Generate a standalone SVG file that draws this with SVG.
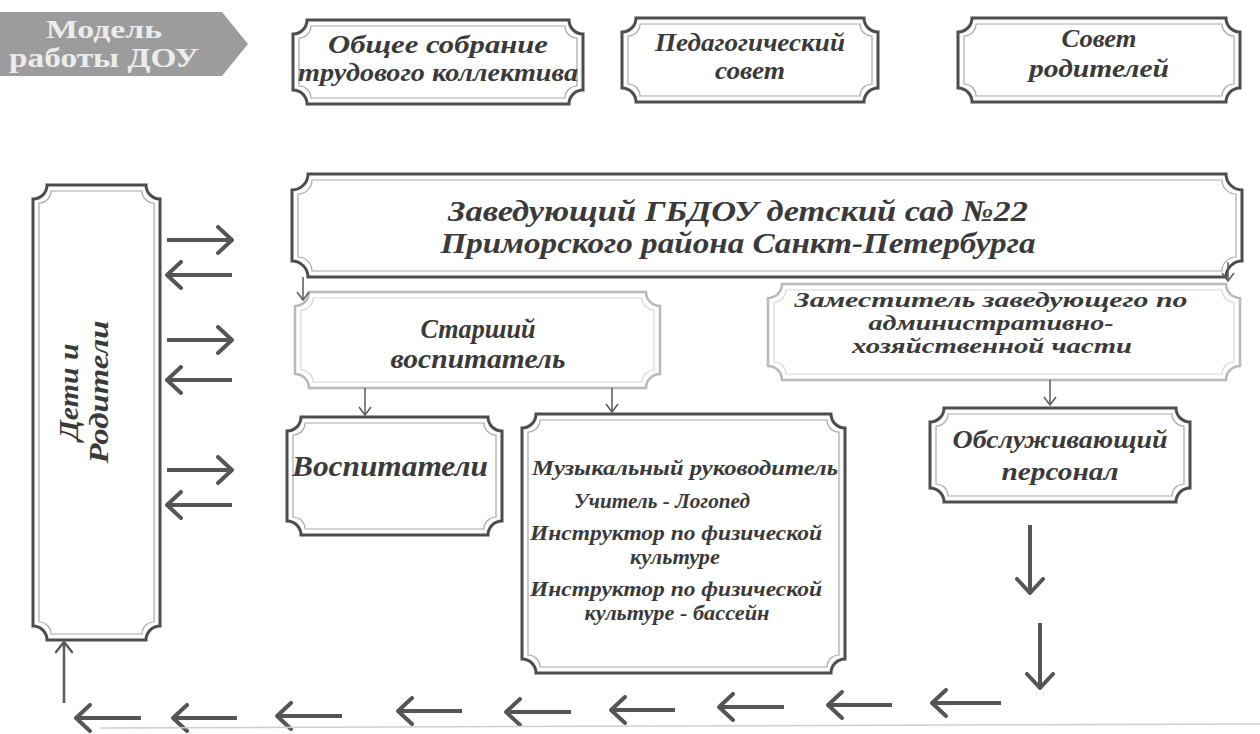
<svg xmlns="http://www.w3.org/2000/svg" width="1260" height="734" viewBox="0 0 1260 734">
<defs>
<style>
.frame{fill:#fff;stroke:#4d4d4d;stroke-width:3}
.inner{fill:none;stroke:#a8a8a8;stroke-width:1.2}
.frameL{fill:#fff;stroke:#b9b9b9;stroke-width:2.5}
.innerL{fill:none;stroke:#d6d6d6;stroke-width:1.2}
.t{font-family:"Liberation Serif","DejaVu Serif",serif;font-style:italic;font-weight:bold;fill:#3a3a3a;text-anchor:middle}
.lbl{font-family:"Liberation Serif","DejaVu Serif",serif;font-weight:bold;fill:#ececec;text-anchor:middle}
.thin{fill:none;stroke:#5a5a5a;stroke-width:1.5;marker-end:url(#hThin)}
.mid{fill:none;stroke:#5a5a5a;stroke-width:2.5;marker-end:url(#hMid)}
.thick{fill:none;stroke:#555;stroke-width:4;marker-end:url(#hThick)}
</style>
<marker id="hThin" viewBox="0 0 10 14" refX="9" refY="7" markerWidth="10" markerHeight="14" markerUnits="userSpaceOnUse" orient="auto"><path d="M1,1 L9,7 L1,13" fill="none" stroke="#5a5a5a" stroke-width="1.5"/></marker>
<marker id="hMid" viewBox="0 0 14 20" refX="12" refY="10" markerWidth="14" markerHeight="20" markerUnits="userSpaceOnUse" orient="auto"><path d="M2,2 L12,10 L2,18" fill="none" stroke="#5a5a5a" stroke-width="2.5" stroke-linecap="round"/></marker>
<marker id="hThick" viewBox="0 0 18 30" refX="16" refY="15" markerWidth="18" markerHeight="30" markerUnits="userSpaceOnUse" orient="auto"><path d="M2,2 L16,15 L2,28" fill="none" stroke="#555" stroke-width="4" stroke-linecap="round" stroke-linejoin="round"/></marker>
</defs>
<rect width="1260" height="734" fill="#fff"/>

<g id="label">
<polygon points="0,12 222,12 248,44 222,76 0,76" fill="#9c9c9c"/>
<text class="lbl" x="104" y="38" font-size="25" textLength="116" lengthAdjust="spacingAndGlyphs">Модель</text>
<text class="lbl" x="104" y="67" font-size="28" textLength="190" lengthAdjust="spacingAndGlyphs">работы ДОУ</text>
</g>

<g id="obshchee">
<path class="frame" d="M307,20 H569 A14,14 0 0 0 583,34 V90 A14,14 0 0 0 569,104 H307 A14,14 0 0 0 293,90 V34 A14,14 0 0 0 307,20 Z"/>
<path class="inner" d="M311,26 H565 A12,12 0 0 0 577,38 V86 A12,12 0 0 0 565,98 H311 A12,12 0 0 0 299,86 V38 A12,12 0 0 0 311,26 Z"/>
<text class="t" x="438" y="53" font-size="25" textLength="220" lengthAdjust="spacingAndGlyphs">Общее собрание</text>
<text class="t" x="438" y="81" font-size="25" textLength="280" lengthAdjust="spacingAndGlyphs">трудового коллектива</text>
</g>

<g id="pedsovet">
<path class="frame" d="M636,18 H864 A14,14 0 0 0 878,32 V88 A14,14 0 0 0 864,102 H636 A14,14 0 0 0 622,88 V32 A14,14 0 0 0 636,18 Z"/>
<path class="inner" d="M640,24 H860 A12,12 0 0 0 872,36 V84 A12,12 0 0 0 860,96 H640 A12,12 0 0 0 628,84 V36 A12,12 0 0 0 640,24 Z"/>
<text class="t" x="750" y="51" font-size="25" textLength="190" lengthAdjust="spacingAndGlyphs">Педагогический</text>
<text class="t" x="750" y="79" font-size="25" textLength="70" lengthAdjust="spacingAndGlyphs">совет</text>
</g>

<g id="sovet-roditelei">
<path class="frame" d="M972,18 H1226 A14,14 0 0 0 1240,32 V88 A14,14 0 0 0 1226,102 H972 A14,14 0 0 0 958,88 V32 A14,14 0 0 0 972,18 Z"/>
<path class="inner" d="M976,24 H1222 A12,12 0 0 0 1234,36 V84 A12,12 0 0 0 1222,96 H976 A12,12 0 0 0 964,84 V36 A12,12 0 0 0 976,24 Z"/>
<text class="t" x="1099" y="47" font-size="26" textLength="75" lengthAdjust="spacingAndGlyphs">Совет</text>
<text class="t" x="1099" y="77" font-size="26" textLength="140" lengthAdjust="spacingAndGlyphs">родителей</text>
</g>

<g id="zaveduyushchii">
<path class="frame" d="M308,174 H1226 A16,16 0 0 0 1242,190 V261 A16,16 0 0 0 1226,277 H308 A16,16 0 0 0 292,261 V190 A16,16 0 0 0 308,174 Z"/>
<path class="inner" d="M312,180 H1222 A14,14 0 0 0 1236,194 V257 A14,14 0 0 0 1222,271 H312 A14,14 0 0 0 298,257 V194 A14,14 0 0 0 312,180 Z"/>
<text class="t" x="738" y="221" font-size="30" textLength="580" lengthAdjust="spacingAndGlyphs">Заведующий ГБДОУ детский сад №22</text>
<text class="t" x="738" y="253" font-size="30" textLength="595" lengthAdjust="spacingAndGlyphs">Приморского района Санкт-Петербурга</text>
</g>

<g id="starshii">
<path class="frameL" d="M309,292 H646 A14,14 0 0 0 660,306 V374 A14,14 0 0 0 646,388 H309 A14,14 0 0 0 295,374 V306 A14,14 0 0 0 309,292 Z"/>
<path class="innerL" d="M313,298 H642 A12,12 0 0 0 654,310 V370 A12,12 0 0 0 642,382 H313 A12,12 0 0 0 301,370 V310 A12,12 0 0 0 313,298 Z"/>
<text class="t" x="478" y="338" font-size="27" textLength="115" lengthAdjust="spacingAndGlyphs">Старший</text>
<text class="t" x="478" y="368" font-size="27" textLength="175" lengthAdjust="spacingAndGlyphs">воспитатель</text>
</g>

<g id="zamestitel">
<path class="frameL" d="M782,284 H1226 A14,14 0 0 0 1240,298 V366 A14,14 0 0 0 1226,380 H782 A14,14 0 0 0 768,366 V298 A14,14 0 0 0 782,284 Z"/>
<path class="innerL" d="M786,290 H1222 A12,12 0 0 0 1234,302 V362 A12,12 0 0 0 1222,374 H786 A12,12 0 0 0 774,362 V302 A12,12 0 0 0 786,290 Z"/>
<text class="t" x="991" y="307" font-size="22" textLength="393" lengthAdjust="spacingAndGlyphs">Заместитель заведующего по</text>
<text class="t" x="991" y="330" font-size="22" textLength="245" lengthAdjust="spacingAndGlyphs">административно-</text>
<text class="t" x="992" y="353" font-size="22" textLength="280" lengthAdjust="spacingAndGlyphs">хозяйственной части</text>
</g>

<g id="vospitateli">
<path class="frame" d="M301,417 H488 A14,14 0 0 0 502,431 V521 A14,14 0 0 0 488,535 H301 A14,14 0 0 0 287,521 V431 A14,14 0 0 0 301,417 Z"/>
<path class="inner" d="M305,423 H484 A12,12 0 0 0 496,435 V517 A12,12 0 0 0 484,529 H305 A12,12 0 0 0 293,517 V435 A12,12 0 0 0 305,423 Z"/>
<text class="t" x="390" y="476" font-size="30" textLength="196" lengthAdjust="spacingAndGlyphs">Воспитатели</text>
</g>

<g id="specialisty">
<path class="frame" d="M536,414 H831 A14,14 0 0 0 845,428 V659 A14,14 0 0 0 831,673 H536 A14,14 0 0 0 522,659 V428 A14,14 0 0 0 536,414 Z"/>
<path class="inner" d="M540,420 H827 A12,12 0 0 0 839,432 V655 A12,12 0 0 0 827,667 H540 A12,12 0 0 0 528,655 V432 A12,12 0 0 0 540,420 Z"/>
<text class="t" x="685" y="475" font-size="22" textLength="306" lengthAdjust="spacingAndGlyphs">Музыкальный руководитель</text>
<text class="t" x="662" y="508" font-size="22" textLength="176" lengthAdjust="spacingAndGlyphs">Учитель - Логопед</text>
<text class="t" x="676" y="540" font-size="22" textLength="292" lengthAdjust="spacingAndGlyphs">Инструктор по физической</text>
<text class="t" x="675" y="564" font-size="22" textLength="90" lengthAdjust="spacingAndGlyphs">культуре</text>
<text class="t" x="676" y="596" font-size="22" textLength="292" lengthAdjust="spacingAndGlyphs">Инструктор по физической</text>
<text class="t" x="677" y="620" font-size="22" textLength="185" lengthAdjust="spacingAndGlyphs">культуре - бассейн</text>
</g>

<g id="obsluzhivayushchii">
<path class="frame" d="M944,408 H1176 A14,14 0 0 0 1190,422 V488 A14,14 0 0 0 1176,502 H944 A14,14 0 0 0 930,488 V422 A14,14 0 0 0 944,408 Z"/>
<path class="inner" d="M948,414 H1172 A12,12 0 0 0 1184,426 V484 A12,12 0 0 0 1172,496 H948 A12,12 0 0 0 936,484 V426 A12,12 0 0 0 948,414 Z"/>
<text class="t" x="1060" y="448" font-size="26" textLength="215" lengthAdjust="spacingAndGlyphs">Обслуживающий</text>
<text class="t" x="1060" y="480" font-size="26" textLength="117" lengthAdjust="spacingAndGlyphs">персонал</text>
</g>

<g id="deti">
<path class="frame" d="M47,185 H146 A14,14 0 0 0 160,199 V626 A14,14 0 0 0 146,640 H47 A14,14 0 0 0 33,626 V199 A14,14 0 0 0 47,185 Z"/>
<path class="inner" d="M51,191 H142 A12,12 0 0 0 154,203 V622 A12,12 0 0 0 142,634 H51 A12,12 0 0 0 39,622 V203 A12,12 0 0 0 51,191 Z"/>
<text class="t" transform="translate(78,392) rotate(-90)" font-size="27" textLength="97" lengthAdjust="spacingAndGlyphs">Дети и</text>
<text class="t" transform="translate(108,392) rotate(-90)" font-size="27" textLength="143" lengthAdjust="spacingAndGlyphs">Родители</text>
</g>

<g id="connectors">
<line class="thin" x1="303" y1="277" x2="303" y2="300"/>
<line class="thin" x1="1228" y1="262" x2="1228" y2="281"/>
<line class="thin" x1="365" y1="388" x2="365" y2="415"/>
<line class="thin" x1="612" y1="388" x2="612" y2="412"/>
<line class="thin" x1="1050" y1="380" x2="1050" y2="405"/>
<line class="thick" x1="167" y1="240" x2="232" y2="240"/>
<line class="thick" x1="232" y1="275" x2="167" y2="275"/>
<line class="thick" x1="167" y1="340" x2="232" y2="340"/>
<line class="thick" x1="232" y1="380" x2="167" y2="380"/>
<line class="thick" x1="167" y1="470" x2="232" y2="470"/>
<line class="thick" x1="232" y1="505" x2="167" y2="505"/>
<line class="thick" x1="1030" y1="525" x2="1030" y2="593"/>
<line class="thick" x1="1040" y1="623" x2="1040" y2="688"/>
<line class="thick" x1="1001" y1="703" x2="932" y2="703"/>
<line class="thick" x1="892" y1="705" x2="828" y2="705"/>
<line class="thick" x1="784" y1="707" x2="719" y2="707"/>
<line class="thick" x1="675" y1="710" x2="611" y2="710"/>
<line class="thick" x1="571" y1="712" x2="506" y2="712"/>
<line class="thick" x1="462" y1="711" x2="398" y2="711"/>
<line class="thick" x1="342" y1="716" x2="277" y2="716"/>
<line class="thick" x1="237" y1="718" x2="173" y2="718"/>
<line class="thick" x1="141" y1="718" x2="76" y2="718"/>
<line class="mid" x1="64" y1="703" x2="64" y2="642"/>
</g>

<line x1="100" y1="728" x2="1260" y2="724" stroke="#cfcfcf" stroke-width="1.5"/>
</svg>
